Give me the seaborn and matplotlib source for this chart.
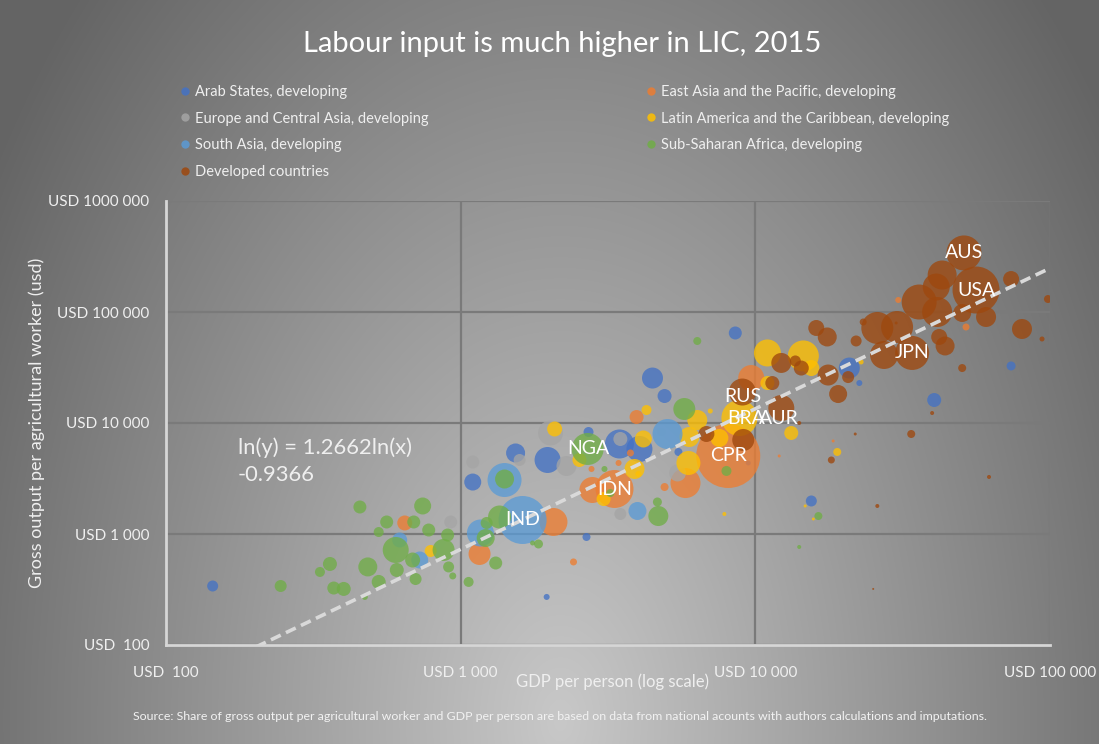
import numpy as np
import pandas as pd
import matplotlib
matplotlib.use("Agg")
import matplotlib.pyplot as plt
from matplotlib.lines import Line2D
from matplotlib.ticker import FixedLocator, FixedFormatter, NullLocator
import seaborn as sns

# ---------------- data (GDP per person, gross output per agri worker, bubble size) ----------------
arab_gdp = [144, 1099, 1536, 1972, 2716, 3459, 4043, 5483, 4477, 4920, 8551, 9462, 20840, 22540,
            40460, 73790, 15490, 1958, 2673]
arab_out = [340, 2938, 5370, 4642, 8299, 6471, 5834, 5483, 25410, 17500, 64710, 4362, 31270, 22910,
            16110, 32640, 1984, 271, 940]
arab_size = [1.21, 2.89, 3.61, 6.76, 1.0, 8.41, 6.76, 0.64, 4.41, 1.96, 1.69, 0.25, 4.41, 0.36,
             1.96, 0.81, 1.21, 0.36, 0.64]

eap_gdp = [646, 1159, 2065, 2799, 3327, 3953, 3768, 3434, 2780, 4920, 5794, 8091, 9683, 2415,
           30550, 51880, 18370, 12050]
eap_out = [1257, 661, 1283, 2491, 2543, 11320, 5370, 4362, 3852, 2650, 2878, 5046, 25410, 560,
           128300, 73280, 6887, 5046]
eap_size = [2.25, 4.84, 7.84, 6.76, 14.4, 1.96, 0.49, 0.36, 0.36, 0.64, 9.0, 41.0, 6.76, 0.49,
            0.36, 0.49, 0.09, 0.09]

eca_gdp = [1099, 925, 1585, 2018, 2286, 3483, 4797, 5445, 3483]
eca_out = [4453, 1283, 4642, 8128, 4099, 7178, 8299, 3548, 1514]
eca_size = [1.69, 1.69, 1.44, 6.25, 4.0, 1.96, 0.64, 2.89, 1.44]

lac_gdp = [791, 2084, 2530, 4169, 4272, 3890, 4009, 3055, 5929, 6353, 5970, 7551, 8831, 7031,
           7852, 10990, 14550, 15490, 10990, 13240, 22860, 18970, 14760, 15740]
lac_out = [703, 8831, 4642, 7178, 13090, 3852, 3475, 2066, 4362, 10640, 7479, 7328, 11090, 12820,
           1514, 42760, 40180, 31270, 22910, 8128, 35480, 5483, 1788, 1365]
lac_size = [1.44, 2.25, 1.96, 2.89, 1.0, 4.0, 0.36, 1.96, 5.76, 4.0, 4.0, 3.24, 12.96, 0.25,
            0.16, 7.29, 9.61, 2.56, 1.96, 1.96, 0.25, 0.64, 0.09, 0.09]

sa_gdp = [621, 726, 1167, 1409, 1622, 5035, 3981]
sa_out = [883, 583, 1021, 3064, 1337, 7960, 1612]
sa_size = [2.25, 2.89, 7.29, 11.56, 23.04, 9.0, 3.24]

ssa_gdp = [245, 455, 561, 693, 743, 779, 527, 602, 903, 875, 687, 607, 484, 360, 333, 371, 401,
           527, 703, 910, 940, 1064, 473, 1409, 1355, 1225, 1216, 1315, 1837, 1754, 2697, 3076,
           3221, 4652, 4686, 5741, 6353, 7980, 16370, 14090]
ssa_out = [340, 1751, 1283, 1283, 1788, 1086, 1042, 718, 979, 718, 583, 474, 505, 537, 455, 326,
           320, 370, 393, 505, 419, 370, 271, 3128, 1423, 1257, 920, 548, 813, 830, 5834, 3852,
           2340, 1943, 1452, 13370, 54810, 3698, 1452, 764]
ssa_size = [1.44, 1.69, 1.69, 1.69, 2.89, 1.69, 1.0, 6.76, 1.69, 4.84, 2.25, 1.96, 3.61, 1.96,
            1.0, 1.69, 1.96, 1.96, 1.44, 1.21, 0.49, 1.0, 0.36, 3.61, 5.29, 1.44, 3.24, 1.69,
            0.81, 0.25, 10.24, 0.36, 0.64, 0.81, 4.0, 4.84, 0.64, 1.0, 0.64, 0.16]

dev_gdp = [9036, 6823, 9099, 11420, 12250, 12250, 13670, 14320, 17660, 20650, 19100, 16100, 17540,
           21980, 23230, 25940, 30270, 27350, 34060, 42070, 44050, 35970, 41110, 43050, 51050,
           56100, 41400, 50350, 60670, 73790, 98410, 80350, 93970, 50350, 39810, 33810, 21830,
           14090, 18110, 62090, 25940, 25120, 30060]
dev_out = [19010, 7960, 7031, 22910, 13650, 34750, 36220, 31270, 27050, 25940, 18240, 71780, 59560,
           54810, 81280, 71780, 73280, 41000, 42760, 59560, 49430, 123000, 167900, 215400, 340400,
           157800, 100000, 97950, 90160, 198200, 130900, 70310, 57140, 31270, 12300, 7960, 7960,
           10000, 4642, 3265, 1788, 320, 79620]
dev_size = [7.29, 2.56, 4.84, 1.96, 6.76, 4.0, 1.21, 2.25, 4.41, 1.44, 3.24, 2.56, 3.61, 1.21,
            0.49, 10.24, 10.24, 7.84, 11.56, 2.56, 3.61, 12.25, 7.29, 8.41, 12.25, 22.09, 9.0,
            3.24, 4.0, 2.56, 0.64, 4.0, 0.25, 0.64, 0.16, 0.64, 0.09, 0.16, 0.49, 0.16, 0.16,
            0.04, 0.09]

regions = ["Arab States, developing", "East Asia and the Pacific, developing",
           "Europe and Central Asia, developing", "Latin America and the Caribbean, developing",
           "South Asia, developing", "Sub-Saharan Africa, developing", "Developed countries"]
colors = ["#4472C4", "#ED7D31", "#A5A5A5", "#FFC000", "#5B9BD5", "#70AD47", "#9E480E"]

label_codes = ["AUS", "USA", "JPN", "RUS", "BRA", "AUR", "CPR", "NGA", "IDN", "IND"]
label_gdp = [51050, 56100, 34060, 9036, 9300, 12000, 8091, 2716, 3327, 1622]
label_out = [340400, 157800, 42760, 17500, 11090, 11090, 5046, 5834, 2543, 1337]

trend_slope, trend_icept = 1.2662, -0.9366

x_ticks = [100, 1000, 10000, 100000]
x_ticklabels = ["USD  100", "USD 1 000", "USD 10 000", "USD 100 000"]
y_ticks = [100, 1000, 10000, 100000, 1000000]
y_ticklabels = ["USD  100", "USD 1 000", "USD 10 000", "USD 100 000", "USD 1000 000"]

# ---------------- frame ----------------
frames = []
for name, g, o, s in zip(regions,
                         [arab_gdp, eap_gdp, eca_gdp, lac_gdp, sa_gdp, ssa_gdp, dev_gdp],
                         [arab_out, eap_out, eca_out, lac_out, sa_out, ssa_out, dev_out],
                         [arab_size, eap_size, eca_size, lac_size, sa_size, ssa_size, dev_size]):
    frames.append(pd.DataFrame({"gdp": g, "output": o, "workers": s, "region": name}))
df = pd.concat(frames, ignore_index=True)

sns.set_theme(style="white")
plt.rcParams["font.family"] = ["Lato", "DejaVu Sans"]
TXT = "#efefef"

fig = plt.figure(figsize=(10.99, 7.44), dpi=100)

# gray radial backdrop, lighter toward the bottom centre
H, W = 744, 1099
yy, xx = np.mgrid[0:H, 0:W]
r = np.sqrt((0.149 * (xx - 560)) ** 2 + (0.095 * (yy - 720)) ** 2)
g = np.clip(200 - r, 100, 200) / 255
fig.figimage(np.dstack([g, g, g]), xo=0, yo=0, origin="upper", zorder=-10)

ax = fig.add_axes([166 / W, 99 / H, 884 / W, 444 / H])
ax.set_facecolor("none")
ax.set_xscale("log")
ax.set_yscale("log")

vmax = df["workers"].max()
sns.scatterplot(data=df, x="gdp", y="output", hue="region", hue_order=regions, palette=colors,
                size="workers", sizes=(0, 51.84 * vmax), size_norm=(0, vmax),
                alpha=0.78, linewidth=0, legend=False, ax=ax, zorder=3)

tx = np.array([100, 100000])
ax.plot(tx, 10 ** trend_icept * tx ** trend_slope, color="#d9d9d9", lw=2.6,
        dashes=(3, 1.6), zorder=4)

for code, gx, gy in zip(label_codes, label_gdp, label_out):
    ax.text(gx, gy, code, ha="center", va="center", color="white", fontsize=14, zorder=5)

ax.text(0.081, 0.468, "ln(y) = 1.2662ln(x)\n-0.9366", transform=ax.transAxes, ha="left",
        va="top", fontsize=15.8, color=TXT, linespacing=1.45, zorder=5)

ax.set_xlim(100, 100000)
ax.set_ylim(100, 1000000)
ax.xaxis.set_major_locator(FixedLocator(x_ticks))
ax.xaxis.set_major_formatter(FixedFormatter(x_ticklabels))
ax.yaxis.set_major_locator(FixedLocator(y_ticks))
ax.yaxis.set_major_formatter(FixedFormatter(y_ticklabels))
ax.xaxis.set_minor_locator(NullLocator())
ax.yaxis.set_minor_locator(NullLocator())
ax.grid(True, which="major", color="#7a7a7a", lw=1.6)
ax.get_xgridlines()[-1].set_alpha(0.25)
ax.set_axisbelow(True)
ax.tick_params(length=0, labelsize=11, labelcolor=TXT)
ax.tick_params(axis="x", pad=15)
ax.tick_params(axis="y", pad=12)
for side in ["top", "right"]:
    ax.spines[side].set_visible(False)
for side in ["left", "bottom"]:
    ax.spines[side].set_color("#d6d6d6")
    ax.spines[side].set_linewidth(2)

ax.set_xlabel("GDP per person (log scale)", fontsize=12, color=TXT)
ax.xaxis.set_label_coords(0.505, -0.063)
ax.set_ylabel("Gross output per agricultural worker (usd)", fontsize=13, color=TXT)
ax.yaxis.set_label_coords(-0.137, 0.5)

fig.text(562 / W, 1 - 44 / H, "Labour input is much higher in LIC, 2015", ha="center",
         va="center", fontsize=21, color="white")

handles = [Line2D([0], [0], marker="o", linestyle="", markersize=6, markerfacecolor=c,
                  markeredgewidth=0, alpha=0.85) for c in colors]
col1 = [0, 2, 4, 6]
col2 = [1, 3, 5]
for idx, xpos in [(col1, 179), (col2, 645)]:
    fig.legend([handles[i] for i in idx], [regions[i] for i in idx], loc="upper left",
               bbox_to_anchor=(xpos / W, 1 - 85 / H), frameon=False, fontsize=10.5,
               labelcolor=TXT, handletextpad=0.3, handlelength=0.8, labelspacing=0.86,
               borderaxespad=0, borderpad=0)

fig.text(560 / W, 1 - 716 / H,
         "Source: Share of gross output per agricultural worker and GDP per person are based on "
         "data from national acounts with authors calculations and imputations.",
         ha="center", va="center", fontsize=8.9, color="#f2f2f2")

fig.savefig("out.png", dpi=100)
